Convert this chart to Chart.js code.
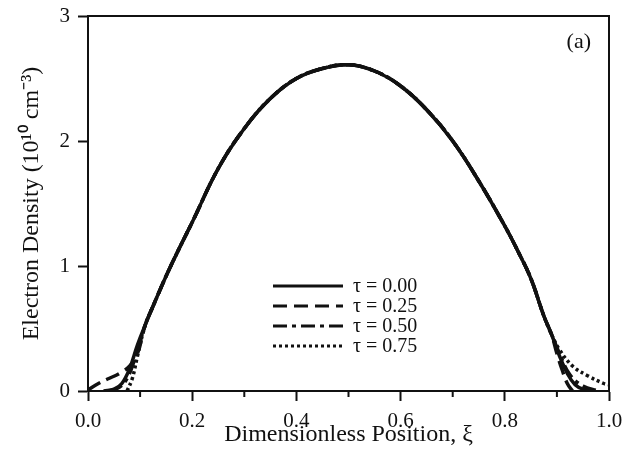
<!DOCTYPE html>
<html>
<head>
<meta charset="utf-8">
<script src="https://cdn.jsdelivr.net/npm/chart.js@4"></script>
<style>
  html, body { margin: 0; padding: 0; background: #fff; }
  #wrap { width: 627px; height: 459px; }
</style>
</head>
<body>
<div id="wrap"><canvas id="densityChart" width="627" height="459"></canvas></div>
<script>
// shared central part of the profile (all four curves coincide here)
const xMid = [0.11, 0.125, 0.15, 0.175, 0.2, 0.25, 0.3, 0.35, 0.4, 0.45, 0.5, 0.55, 0.6, 0.65, 0.7, 0.75, 0.8, 0.825, 0.85, 0.875, 0.89];
const nMid = [0.53, 0.68, 0.92, 1.14, 1.35, 1.78, 2.1, 2.34, 2.5, 2.58, 2.61, 2.56, 2.44, 2.25, 2.0, 1.68, 1.32, 1.12, 0.9, 0.6, 0.45];

// edges, one set per tau
const tauLabels = ['\u03c4 = 0.00', '\u03c4 = 0.25', '\u03c4 = 0.50', '\u03c4 = 0.75'];
const leftX = [
  [0.03, 0.05, 0.065, 0.08, 0.095],
  [0.0, 0.02, 0.04, 0.06, 0.08, 0.095],
  [0.04, 0.06, 0.075, 0.09],
  [0.075, 0.085, 0.095]
];
const leftN = [
  [0.0, 0.015, 0.06, 0.18, 0.37],
  [0.01, 0.06, 0.1, 0.14, 0.2, 0.3],
  [0.0, 0.03, 0.1, 0.26],
  [0.0, 0.1, 0.28]
];
const rightX = [
  [0.905, 0.92, 0.935, 0.95, 0.97],
  [0.9, 0.91, 0.92, 0.93],
  [0.905, 0.925, 0.95, 0.98],
  [0.905, 0.93, 0.96, 0.99, 1.0]
];
const rightN = [
  [0.28, 0.14, 0.05, 0.015, 0.0],
  [0.3, 0.17, 0.06, 0.0],
  [0.3, 0.13, 0.04, 0.0],
  [0.33, 0.2, 0.12, 0.06, 0.05]
];
const dashes = [[], [14, 7], [14, 5, 4, 5], [3, 3]];

const xTicks = [0, 0.2, 0.4, 0.6, 0.8, 1.0];
const yTicks = [0, 1, 2, 3];

const serif = "'Liberation Serif', 'Times New Roman', serif";

function buildSeries(i) {
  const xs = leftX[i].concat(xMid, rightX[i]);
  const ns = leftN[i].concat(nMid, rightN[i]);
  return xs.map((x, k) => ({ x: x, y: ns[k] }));
}

const datasets = tauLabels.map((label, i) => ({
  label: label,
  data: buildSeries(i),
  showLine: true,
  borderColor: '#111',
  borderWidth: 3.5,
  borderDash: dashes[i],
  pointRadius: 0,
  tension: 0.4,
  fill: false
}));

const framePlugin = {
  id: 'frame',
  afterDraw(chart) {
    const ctx = chart.ctx;
    const a = chart.chartArea;
    const xs = chart.scales.x;
    ctx.save();
    ctx.strokeStyle = '#111';
    ctx.lineWidth = 2;
    ctx.strokeRect(a.left, a.top, a.right - a.left, a.bottom - a.top);
    // minor ticks on the x axis
    for (let k = 1; k < 10; k += 2) {
      const px = xs.getPixelForValue(k / 10);
      ctx.beginPath();
      ctx.moveTo(px, a.bottom);
      ctx.lineTo(px, a.bottom + 6);
      ctx.stroke();
    }
    // legend
    const lx = 273, ly = 286, lw = 70, gap = 20;
    ctx.font = '20px ' + serif;
    ctx.fillStyle = '#111';
    ctx.textBaseline = 'middle';
    chart.data.datasets.forEach((ds, i) => {
      const y = ly + i * gap;
      ctx.setLineDash(ds.borderDash);
      ctx.lineWidth = 3;
      ctx.beginPath();
      ctx.moveTo(lx, y);
      ctx.lineTo(lx + lw, y);
      ctx.stroke();
      ctx.setLineDash([]);
      ctx.fillText(ds.label, 353, y + 1);
    });
    // panel label
    ctx.font = '22px ' + serif;
    ctx.textAlign = 'right';
    ctx.fillText('(a)', 591, 42);
    ctx.restore();
  }
};

new Chart(document.getElementById('densityChart').getContext('2d'), {
  type: 'scatter',
  data: { datasets: datasets },
  plugins: [framePlugin],
  options: {
    responsive: false,
    animation: false,
    layout: { padding: { left: 0, right: 18, top: 16, bottom: 0 } },
    plugins: {
      legend: { display: false },
      tooltip: { enabled: false }
    },
    scales: {
      x: {
        type: 'linear',
        min: 0,
        max: 1,
        afterFit(scale) {
          scale.height = 68;
          scale.paddingLeft = 0;
          scale.paddingRight = 0;
        },
        afterBuildTicks(scale) {
          scale.ticks = xTicks.map(v => ({ value: v }));
        },
        ticks: {
          color: '#111',
          padding: 8,
          maxRotation: 0,
          font: { family: serif, size: 21 },
          callback: v => v.toFixed(1)
        },
        grid: {
          drawOnChartArea: false,
          tickLength: 10,
          tickWidth: 2,
          tickColor: '#111'
        },
        border: { color: '#111', width: 2 },
        title: {
          display: true,
          text: 'Dimensionless Position, \u03be',
          color: '#111',
          font: { family: serif, size: 24 },
          padding: { top: 0, bottom: 10 }
        }
      },
      y: {
        min: 0,
        max: 3,
        afterFit(scale) {
          scale.width = 88;
          scale.paddingTop = 0;
          scale.paddingBottom = 0;
        },
        afterBuildTicks(scale) {
          scale.ticks = yTicks.map(v => ({ value: v }));
        },
        ticks: {
          color: '#111',
          padding: 8,
          font: { family: serif, size: 21 },
          callback: v => String(v)
        },
        grid: {
          drawOnChartArea: false,
          tickLength: 10,
          tickWidth: 2,
          tickColor: '#111'
        },
        border: { color: '#111', width: 2 },
        title: {
          display: true,
          text: 'Electron Density (10\u00b9\u2070 cm\u207b\u00b3)',
          color: '#111',
          font: { family: serif, size: 24 },
          padding: { top: 17, bottom: 0 }
        }
      }
    }
  }
});
</script>
</body>
</html>
